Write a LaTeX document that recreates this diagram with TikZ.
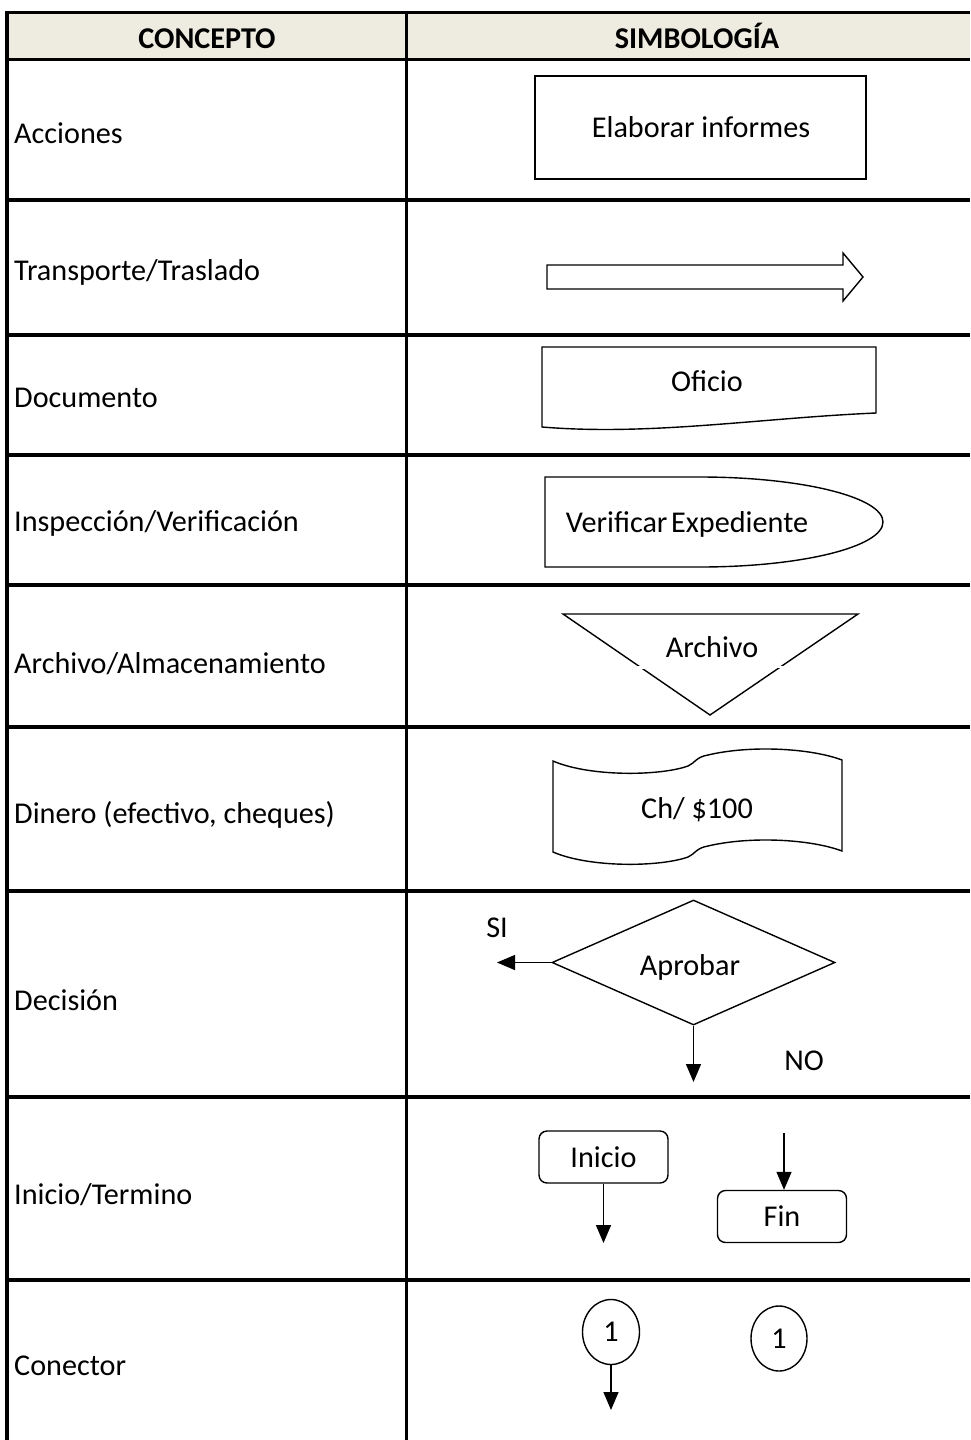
\documentclass[tikz,border=0pt]{standalone}
\usepackage{fontspec}
\setmainfont{Carlito}
\usetikzlibrary{arrows.meta,shapes.geometric}
\definecolor{headfill}{HTML}{EEECE1}
\newcommand{\tabfont}{\fontsize{30.2}{35}\selectfont}
\begin{document}
\begin{tikzpicture}[x=1pt,y=-1pt,
  grid/.style={line width=3.5pt},
  sym/.style={draw=black,line width=1.4pt,line join=miter},
  lbl/.style={anchor=base west,inner sep=0pt,font=\tabfont},
  txt/.style={anchor=base,inner sep=0pt,font=\tabfont},
  head/.style={anchor=base,inner sep=0pt,font=\tabfont\bfseries},
  flow/.style={line width=1.4pt,-{Triangle[width=15pt,length=18pt]}},
  term/.style={sym,rounded corners=8pt,minimum width=129pt,minimum height=52pt,inner sep=0pt,font=\tabfont},
  conn/.style={sym,ellipse,inner sep=0pt,font=\tabfont}
]
\useasboundingbox (0,0) rectangle (970,1440);

% header band
\fill[headfill] (7,12.5) rectangle (970,59.5);

% table rules
\draw[grid] (5.25,12.5) -- (970,12.5);
\draw[grid] (5.25,59.5) -- (970,59.5);
\foreach \yy in {200,335,455,585,727,891,1097,1280}
  \draw[grid] (5.25,\yy) -- (970,\yy);
\draw[grid] (7,10.75) -- (7,1440);
\draw[grid] (406.5,10.75) -- (406.5,1440);

% column headings
\node[head] (hconc) at (207,48.5) {CONCEPTO};
\node[head] (hsimb) at (697,48.5) {SIMBOLOGÍA};

% concept labels
\node[lbl] (l1) at (14,143) {Acciones};
\node[lbl] (l2) at (14,280) {Transporte/Traslado};
\node[lbl] (l3) at (14,407) {Documento};
\node[lbl] (l4) at (14,531) {Inspección/Verificación};
\node[lbl] (l5) at (14,673) {Archivo/Almacenamiento};
\node[lbl] (l6) at (14,823) {Dinero (efectivo, cheques)};
\node[lbl] (l7) at (14,1010) {Decisión};
\node[lbl] (l8) at (14,1204) {Inicio/Termino};
\node[lbl] (l9) at (14,1375) {Conector};

% action box
\draw[sym] (535,76) rectangle (866,179);
\node[txt] (accion) at (701,137) {Elaborar informes};

% transport arrow
\draw[sym] (547,265) -- (843,265) -- (843,253) -- (863,277) -- (843,301)
  -- (843,289) -- (547,289) -- cycle;

% document
\draw[sym] (542,347) -- (876,347) -- (876,413)
  .. controls (760,418) and (650,436) .. (542,427) -- cycle;
\node[txt] (oficio) at (707,391) {Oficio};

% inspection
\draw[sym] (700,477) -- (545,477) -- (545,567) -- (700,567)
  .. controls (801,567) and (883,547) .. (883,522)
  .. controls (883,497) and (801,477) .. (700,477) -- cycle;
\node[txt] (verif) at (687,532) {Verificar\hspace{0.12em}Expediente};

% storage triangle
\draw[sym] (563,614) -- (858,614) -- (710,715) -- cycle;
\draw[white,line width=2.5pt] (636,667.5) -- (645,667.5);
\draw[white,line width=2.5pt] (777,667) -- (787,667);
\node[txt] (archivo) at (712,657) {Archivo};

% money (tape)
\draw[sym] (553,761)
  .. controls (590,777) and (660,776) .. (688,766)
  .. controls (695,763) and (696,757) .. (708,755)
  .. controls (750,745) and (810,748) .. (842,760)
  -- (842,851)
  .. controls (810,839) and (750,836) .. (708,846)
  .. controls (696,848) and (695,854) .. (688,857)
  .. controls (660,867) and (590,868) .. (553,852) -- cycle;
\node[txt] (dinero) at (697,818) {Ch/ \$100};

% decision
\node[sym,diamond,aspect=2.26,minimum width=283pt,minimum height=125pt,inner sep=0pt]
  (dec) at (693.5,962.5) {};
\node[txt] (aprobar) at (690,975) {Aprobar};
\coordinate (siend) at (497,962.5);
\coordinate (noend) at (693.5,1082);
\draw[flow] (dec.west) -- (siend);
\draw[flow] (dec.south) -- (noend);
\node[txt] (si) at (497,937) {SI};
\node[txt] (no) at (804,1070) {NO};

% start / end
\node[term] (ini) at (603.5,1157) {Inicio};
\coordinate (iniend) at (603.5,1243);
\draw[flow] (ini.south) -- (iniend);
\node[term] (fin) at (782,1216.5) {Fin};
\coordinate (finstart) at (784,1133);
\draw[flow] (finstart) -- (fin.north -| finstart);

% connectors
\node[conn,minimum width=57pt,minimum height=65pt] (c1) at (611,1332) {1};
\coordinate (c1end) at (611,1410);
\draw[flow] (c1.south) -- (c1end);
\node[conn,minimum width=56pt,minimum height=65pt] (c2) at (779,1338.5) {1};
\end{tikzpicture}
\end{document}
